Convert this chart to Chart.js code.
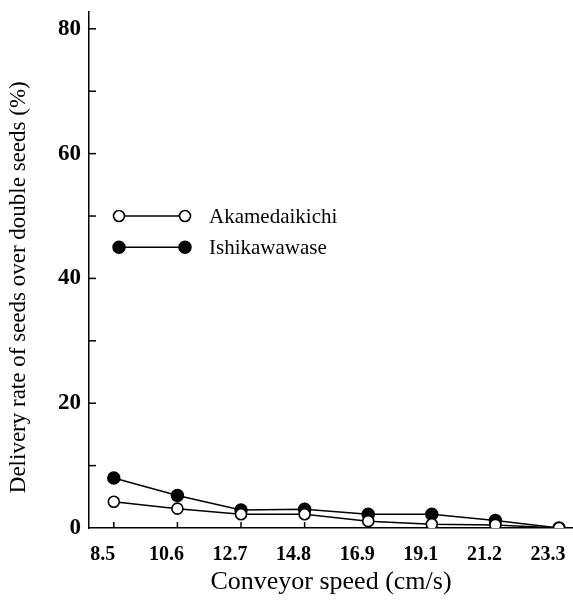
<!DOCTYPE html>
<html><head><meta charset="utf-8">
<script src="https://cdn.jsdelivr.net/npm/chart.js@4"></script>
<style>html,body{margin:0;padding:0;background:#fff}#wrap{width:573px;height:601px;position:relative}</style>
</head><body><div id="wrap"><canvas id="c" width="573" height="601"></canvas></div>
<script>
const speeds = ['8.5', '10.6', '12.7', '14.8', '16.9', '19.1', '21.2', '23.3'];
const akamedaikichi = [4.2, 3.1, 2.2, 2.2, 1.1, 0.6, 0.5, 0];
const ishikawawase = [8.0, 5.2, 2.9, 3.0, 2.2, 2.2, 1.2, 0];
const yLabeled = [0, 20, 40, 60, 80];
const seriesNames = ['Akamedaikichi', 'Ishikawawase'];
const xTitle = 'Conveyor speed (cm/s)';
const yTitle = 'Delivery rate of seeds over double seeds (%)';

const toPts = arr => arr.map((v, i) => ({x: i, y: v}));

const innerTicks = {
  id: 'innerTicks',
  beforeDatasetsDraw(chart) {
    const {ctx, scales: {x, y}, chartArea: a} = chart;
    ctx.save();
    ctx.strokeStyle = '#000';
    ctx.lineWidth = 1.5;
    y.ticks.forEach((t, i) => {
      if (t.value === 0) return;
      const py = y.getPixelForTick(i);
      ctx.beginPath(); ctx.moveTo(a.left, py); ctx.lineTo(a.left + 7, py); ctx.stroke();
    });
    x.ticks.forEach((t, i) => {
      if (!Number.isInteger(t.value)) return;
      const px = x.getPixelForTick(i);
      ctx.beginPath(); ctx.moveTo(px, a.bottom); ctx.lineTo(px, a.bottom - 6); ctx.stroke();
    });
    ctx.restore();
  }
};

const innerLegend = {
  id: 'innerLegend',
  afterDraw(chart) {
    const {ctx, scales: {y}, chartArea: a} = chart;
    const rows = [50, 45];
    ctx.save();
    chart.data.datasets.forEach((ds, k) => {
      const py = y.getPixelForValue(rows[k]);
      const x0 = a.left + 30, x1 = a.left + 96;
      ctx.strokeStyle = '#000'; ctx.lineWidth = 1.5;
      ctx.beginPath(); ctx.moveTo(x0, py); ctx.lineTo(x1, py); ctx.stroke();
      [x0, x1].forEach(px => {
        ctx.beginPath(); ctx.arc(px, py, ds.pointRadius, 0, Math.PI * 2);
        ctx.fillStyle = ds.pointBackgroundColor; ctx.fill();
        ctx.lineWidth = ds.pointBorderWidth; ctx.stroke();
      });
      ctx.fillStyle = '#000';
      ctx.font = '21px "Liberation Serif"';
      ctx.textBaseline = 'middle';
      ctx.textAlign = 'left';
      ctx.fillText(ds.label, a.left + 120, py + 1);
    });
    ctx.restore();
  }
};

new Chart(document.getElementById('c'), {
  type: 'line',
  data: {
    datasets: [
      {label: seriesNames[0], data: toPts(akamedaikichi), borderColor: '#000', borderWidth: 1.5,
       pointRadius: 5.5, pointBackgroundColor: '#fff', pointBorderColor: '#000', pointBorderWidth: 1.6, tension: 0},
      {label: seriesNames[1], data: toPts(ishikawawase), borderColor: '#000', borderWidth: 1.5,
       pointRadius: 6, pointBackgroundColor: '#000', pointBorderColor: '#000', pointBorderWidth: 1.5, tension: 0}
    ]
  },
  options: {
    responsive: false,
    animation: false,
    events: [],
    layout: {autoPadding: false, padding: {top: 12, right: 0, left: 0, bottom: 0}},
    plugins: {legend: {display: false}, tooltip: {enabled: false}},
    scales: {
      x: {
        type: 'linear', min: -0.39, max: 7.22,
        afterFit: s => { s.height = 73; s.paddingLeft = 0; s.paddingRight = 0; },
        grid: {display: false, drawTicks: false},
        border: {display: true, color: '#000', width: 1.5},
        ticks: {stepSize: 1, includeBounds: false, autoSkip: false, maxRotation: 0, padding: 15, labelOffset: -11, color: '#000',
                font: {family: '"Liberation Serif"', size: 20, weight: 'bold'},
                callback: v => Number.isInteger(v) ? speeds[v] : ''},
        title: {display: true, text: xTitle, color: '#000', padding: {top: 0, bottom: 3},
                font: {family: '"Liberation Serif"', size: 26}}
      },
      y: {
        min: 0, max: 82.7,
        afterFit: s => { s.width = 89; s.paddingTop = 0; s.paddingBottom = 0; },
        grid: {display: false, drawTicks: false},
        border: {display: true, color: '#000', width: 1.5},
        ticks: {stepSize: 10, includeBounds: false, padding: 8, color: '#000',
                font: {family: '"Liberation Serif"', size: 23, weight: 'bold'},
                callback: v => yLabeled.includes(v) ? String(v) : ''},
        title: {display: true, text: yTitle + '\u2002\u2002\u2002', color: '#000', padding: {top: 5, bottom: 0},
                font: {family: '"Liberation Serif"', size: 23}}
      }
    }
  },
  plugins: [innerTicks, innerLegend]
});
</script></body></html>
